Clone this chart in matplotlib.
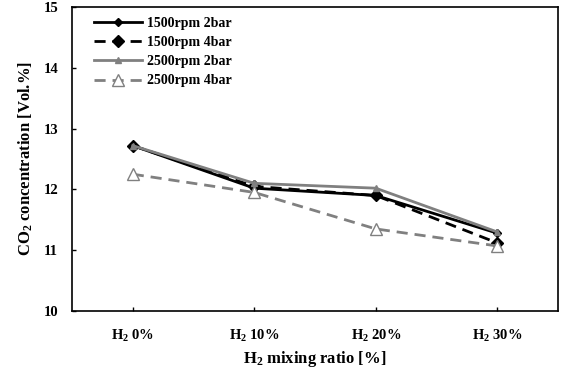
import matplotlib.pyplot as plt

categories = ["H$_2$ 0%", "H$_2$ 10%", "H$_2$ 20%", "H$_2$ 30%"]
rpm1500_2bar = [12.72, 12.02, 11.90, 11.28]
rpm1500_4bar = [12.72, 12.05, 11.90, 11.12]
rpm2500_2bar = [12.72, 12.10, 12.02, 11.30]
rpm2500_4bar = [12.25, 11.95, 11.35, 11.07]

plt.rcParams['font.family'] = 'Liberation Serif'
plt.rcParams['font.weight'] = 'bold'
plt.rcParams['axes.labelweight'] = 'bold'
plt.rcParams['mathtext.fontset'] = 'custom'
plt.rcParams['mathtext.rm'] = 'Liberation Serif:bold'
plt.rcParams['mathtext.it'] = 'Liberation Serif:bold'
plt.rcParams['mathtext.bf'] = 'Liberation Serif:bold'

fig = plt.figure(figsize=(5.74, 3.71), dpi=100)
ax = fig.add_axes([72/574, 60/371, 486/574, 304/371])

x = list(range(len(categories)))
ax.plot(x, rpm1500_2bar, color='black', lw=2, marker='D', ms=4, label="1500rpm 2bar")
ax.plot(x, rpm1500_4bar, color='black', lw=2, ls=(0, (4, 2.5)), marker='D', ms=6,
        label="1500rpm 4bar")
ax.plot(x, rpm2500_2bar, color='#808080', lw=2, marker='^', ms=5, label="2500rpm 2bar")
ax.plot(x, rpm2500_4bar, color='#808080', lw=2, ls=(0, (4, 2.5)), marker='^', ms=8,
        mfc='white', mec='#808080', label="2500rpm 4bar")

ax.set_xlim(-0.5, 3.5)
ax.set_ylim(10, 15)
ax.set_yticks([10, 11, 12, 13, 14, 15])
ax.set_xticks(x)
ax.set_xticklabels(categories, fontsize=10.5)
ax.tick_params(direction='in', length=3, labelsize=10.5, width=1)
ax.tick_params(axis='x', pad=12)
ax.tick_params(axis='y', pad=10)
for s in ax.spines.values():
    s.set_linewidth(1.2)

ax.set_xlabel("H$_2$ mixing ratio [%]", fontsize=12, labelpad=4)
ax.set_ylabel("CO$_2$ concentration [Vol.%]", fontsize=12, labelpad=6)

ax.legend(loc='upper left', frameon=False, fontsize=10, handlelength=3.5,
          borderaxespad=0.3, labelspacing=0.45, handletextpad=0.3,
          bbox_to_anchor=(0.025, 1.0))

fig.savefig("out.png", dpi=100)
